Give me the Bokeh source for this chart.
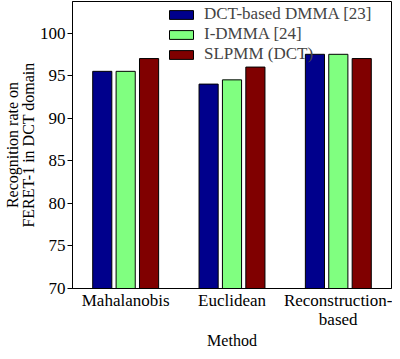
from bokeh.plotting import figure
from bokeh.models import FactorRange, Range1d, Legend, LegendItem, FixedTicker, ColumnDataSource
from bokeh.transform import dodge
from bokeh.embed import file_html
from bokeh.resources import INLINE

methods = ["Mahalanobis", "Euclidean", "Reconstruction-\nbased"]
dct_dmma = [95.5, 94.0, 97.5]
i_dmma = [95.5, 94.5, 97.5]
slpmm = [97.0, 96.0, 97.0]
series_names = ["DCT-based DMMA [23]", "I-DMMA [24]", "SLPMM (DCT)"]
colors = ["#00008C", "#80FF80", "#800000"]
y_ticks = [70, 75, 80, 85, 90, 95, 100]
y_title = "Recognition rate on\nFERET-1 in DCT domain"
x_title = "Method"

FONT = "Liberation Serif"

src = ColumnDataSource(dict(method=methods, a=dct_dmma, b=i_dmma, c=slpmm))

p = figure(width=392, height=351, output_backend="svg", toolbar_location=None,
           x_range=FactorRange(factors=methods, range_padding=0),
           y_range=Range1d(70, 103.7),
           min_border_left=0, min_border_right=1, min_border_top=1, min_border_bottom=0)

renderers = []
for col, off, color in zip(["a", "b", "c"], [-0.22, 0.0, 0.22], colors):
    r = p.vbar(x=dodge("method", off, range=p.x_range), top=col, bottom=70, width=0.18,
               source=src, fill_color=color, line_color="black", line_width=1)
    renderers.append(r)

legend = Legend(items=[LegendItem(label=n, renderers=[r]) for n, r in zip(series_names, renderers)],
                location="top_right", margin=3, padding=2, spacing=0,
                glyph_width=30, glyph_height=11, label_height=16, label_standoff=8,
                label_width=184, label_text_font=FONT, label_text_font_size="17px",
                border_line_color=None, background_fill_alpha=0)
p.add_layout(legend)

p.xgrid.grid_line_color = None
p.ygrid.grid_line_color = None
p.outline_line_color = "black"
p.outline_line_width = 1

p.yaxis.ticker = FixedTicker(ticks=y_ticks)
p.yaxis.minor_tick_line_color = None
p.yaxis.major_tick_out = 5
p.yaxis.major_tick_in = 0
p.yaxis.major_label_standoff = 2
p.yaxis.axis_label = y_title
p.yaxis.axis_label_standoff = 0

p.xaxis.major_tick_line_color = None
p.xaxis.major_tick_out = 0
p.xaxis.major_tick_in = 0
p.xaxis.major_label_standoff = 2
p.xaxis.axis_label = x_title
p.xaxis.axis_label_standoff = 0

p.axis.axis_line_color = "black"
p.axis.major_label_text_font = FONT
p.axis.major_label_text_font_size = "17px"
p.axis.major_label_text_color = "black"
p.axis.major_label_text_line_height = 1.0
p.axis.axis_label_text_font = FONT
p.axis.axis_label_text_font_size = "16px"
p.axis.axis_label_text_font_style = "normal"
p.axis.axis_label_text_color = "black"
p.axis.axis_label_text_line_height = 0.95

open("out.html", "w").write(file_html(p, INLINE))
